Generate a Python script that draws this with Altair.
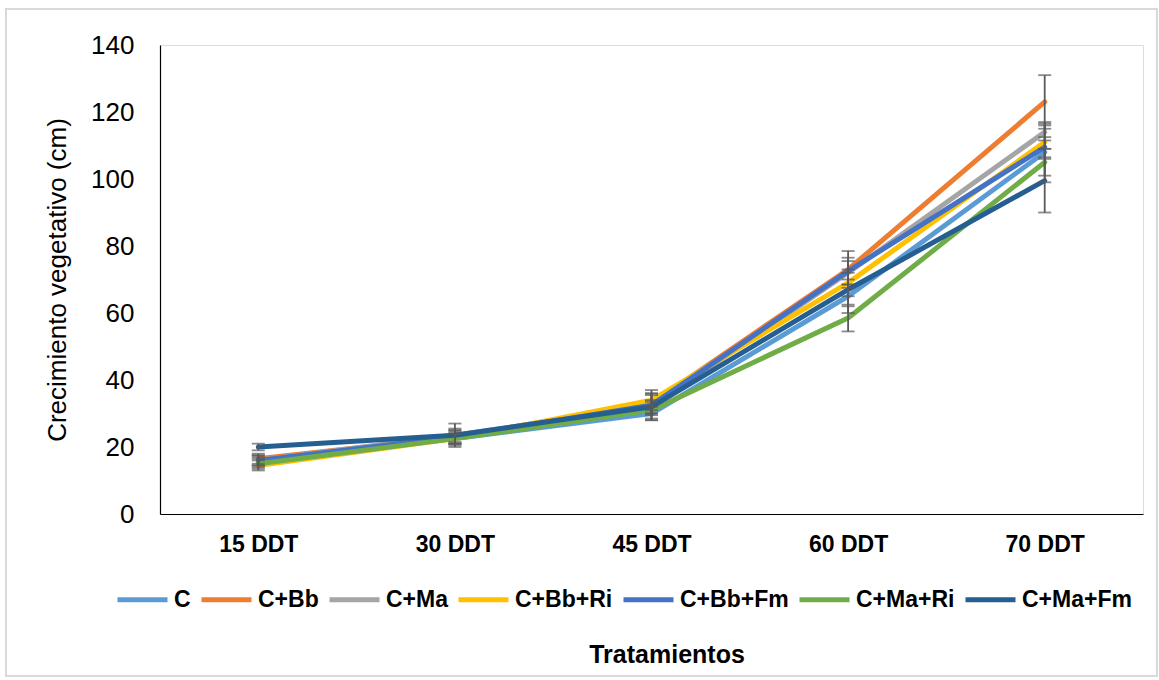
import altair as alt
import pandas as pd

days = ["15 DDT", "30 DDT", "45 DDT", "60 DDT", "70 DDT"]
series = ["C", "C+Bb", "C+Ma", "C+Bb+Ri", "C+Bb+Fm", "C+Ma+Ri", "C+Ma+Fm"]
colors = ["#5B9BD5", "#ED7D31", "#A5A5A5", "#FFC000", "#4472C4", "#70AD47", "#255E91"]

means = {
    "C":       [15.5, 22.5, 30.0, 65.0, 108.0],
    "C+Bb":    [16.5, 23.0, 33.0, 73.0, 123.0],
    "C+Ma":    [16.0, 23.5, 32.0, 72.0, 114.0],
    "C+Bb+Ri": [14.5, 22.5, 34.0, 69.0, 111.0],
    "C+Bb+Fm": [16.0, 23.0, 32.5, 72.5, 109.5],
    "C+Ma+Ri": [15.0, 22.5, 31.0, 58.5, 105.0],
    "C+Ma+Fm": [20.0, 23.5, 32.0, 67.0, 99.5],
}
errors = {
    "C":       [1.5, 2.0, 2.0, 5.0, 9.0],
    "C+Bb":    [1.5, 2.0, 3.0, 5.5, 8.0],
    "C+Ma":    [1.5, 3.5, 4.0, 3.5, 2.5],
    "C+Bb+Ri": [1.5, 1.5, 3.0, 4.0, 5.0],
    "C+Bb+Fm": [1.5, 2.0, 3.0, 4.0, 3.0],
    "C+Ma+Ri": [1.5, 1.5, 2.5, 4.0, 4.0],
    "C+Ma+Fm": [1.0, 2.0, 2.0, 5.0, 9.5],
}

rows = []
for si, s in enumerate(series):
    for d, m, e in zip(days, means[s], errors[s]):
        rows.append({"Tratamiento": s, "order": si, "Dia": d, "valor": m,
                     "lo": m - e, "hi": m + e})
df = pd.DataFrame(rows)

font = "Liberation Sans"
W, H = 983, 469

x_enc = alt.X("Dia:N", sort=days,
              scale=alt.Scale(type="point", padding=0.5),
              axis=alt.Axis(title=None, labelAngle=0, labelFontSize=23,
                            labelFontWeight="bold", labelColor="#000000",
                            ticks=False, labelPadding=19, domainColor="#000000",
                            domainWidth=1.2, labelFont=font))

y_scale = alt.Scale(domain=[0, 140], nice=False)

lines = alt.Chart(df).mark_line(strokeWidth=5, strokeCap="round",
                                strokeJoin="round").encode(
    x=x_enc,
    y=alt.Y("valor:Q", scale=y_scale,
            axis=alt.Axis(title="Crecimiento vegetativo (cm)", values=list(range(0, 141, 20)),
                          grid=False, ticks=False, labelFontSize=26,
                          labelColor="#000000", labelPadding=26, titleFontSize=26,
                          titleFontWeight="normal", titleColor="#000000",
                          titlePadding=20, domainColor="#000000", domainWidth=1.2,
                          labelFont=font, titleFont=font)),
    color=alt.Color("Tratamiento:N", sort=series,
                    scale=alt.Scale(domain=series, range=colors),
                    legend=alt.Legend(title=None, orient="none", direction="horizontal",
                                      legendX=-45, legendY=527, symbolType="stroke",
                                      symbolSize=2500, symbolStrokeWidth=5,
                                      labelFontSize=23, labelFontWeight="bold",
                                      labelColor="#000000", labelFont=font,
                                      columnPadding=0, labelOffset=4,
                                      columns=7)),
    order=alt.Order("order:Q"),
)

bars = alt.Chart(df).mark_rule(color="#595959", strokeWidth=1.8).encode(
    x=alt.X("Dia:N", sort=days), y=alt.Y("lo:Q", scale=y_scale), y2="hi:Q")
cap_lo = alt.Chart(df).mark_tick(color="#595959", thickness=1.8, size=13).encode(
    x=alt.X("Dia:N", sort=days), y=alt.Y("lo:Q", scale=y_scale))
cap_hi = alt.Chart(df).mark_tick(color="#595959", thickness=1.8, size=13).encode(
    x=alt.X("Dia:N", sort=days), y=alt.Y("hi:Q", scale=y_scale))

frame_df = pd.DataFrame({"k": [0]})
frame = alt.Chart(frame_df).mark_rect(fill=None, stroke="#d9d9d9", strokeWidth=2).encode(
    x=alt.value(-154), x2=alt.value(997), y=alt.value(-36), y2=alt.value(631))

xtitle = alt.Chart(frame_df).mark_text(fontSize=25, fontWeight="bold", font=font,
                                        color="#000000").encode(
    x=alt.value(507), y=alt.value(610), text=alt.value("Tratamientos"))

chart = alt.layer(frame, lines, bars, cap_lo, cap_hi, xtitle).properties(
    width=W, height=H,
    autosize=alt.AutoSizeParams(type="none"),
    padding={"left": 160, "top": 45, "right": 16, "bottom": 166},
).configure_view(stroke="#d9d9d9", strokeWidth=1.5).configure(background="white")

chart.save("out.html", embed_options={"renderer": "svg", "actions": False})
